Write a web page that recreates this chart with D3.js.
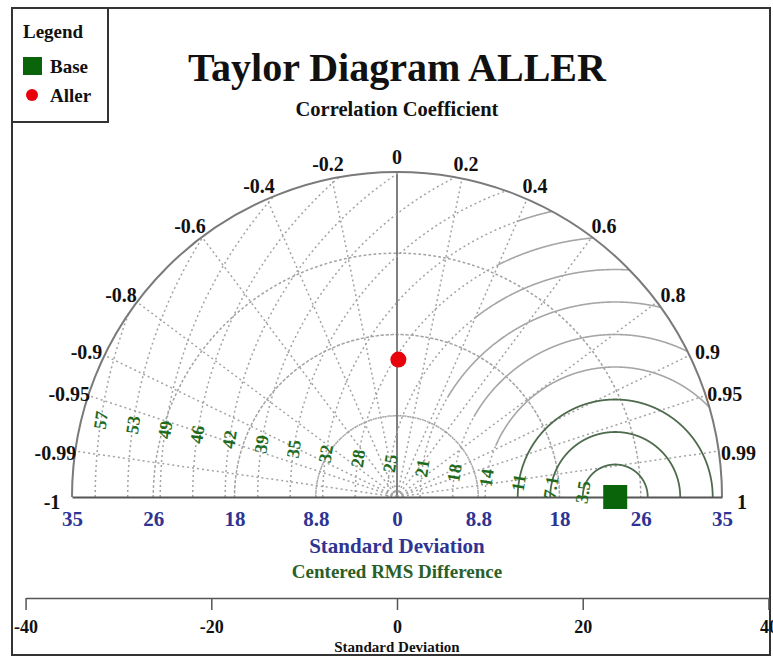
<!DOCTYPE html>
<html><head><meta charset="utf-8">
<script src="https://cdn.jsdelivr.net/npm/d3@7"></script>
<style>
body{margin:0;background:#fff}
svg{display:block}
text{font-family:"Liberation Serif","Times New Roman",serif;font-weight:bold}
</style>
</head><body>
<svg id="c" width="773" height="659"></svg>
<script>
// ---- data ----
const corrTicks  = [-1,-0.99,-0.95,-0.9,-0.8,-0.6,-0.4,-0.2,0,0.2,0.4,0.6,0.8,0.9,0.95,0.99,1];
const corrLabels = ["-1","-0.99","-0.95","-0.9","-0.8","-0.6","-0.4","-0.2","0","0.2","0.4","0.6","0.8","0.9","0.95","0.99","1"];
const stdTicks   = [-35,-26.25,-17.5,-8.75,0,8.75,17.5,26.25,35];
const stdLabels  = ["35","26","18","8.8","0","8.8","18","26","35"];
const stdArcs    = [0.6,8.75,17.5,26.25];
const rmsArcs    = [3.5,7,10.5,14,17.5,21,24.5,28,31.5,35,38.5,42,45.5,49,52.5,56];
const rmsLabels  = ["3.5","7.1","11","14","18","21","25","28","32","35","39","42","46","49","53","57"];
const axisTicks  = [-40,-20,0,20,40];
const modelNames = ["Base","Aller"];
const modelStd   = [23.5,14.8];
const modelCorr  = [1,0.01];
const refStd = 23.5;

// ---- layout ----
const svg = d3.select("#c");
const cx = 397, cy = 497, R = 325, maxStd = 35;
const rs = d3.scaleLinear().domain([0,maxStd]).range([0,R]);
const xs = d3.scaleLinear().domain([-maxStd,maxStd]).range([cx-R,cx+R]);
const xb = d3.scaleLinear().domain([-40,40]).range([cx-rs(40),cx+rs(40)]);
const pos = (s,c)=>{const t=Math.acos(c);return [cx+rs(s)*Math.cos(t), cy-rs(s)*Math.sin(t)];};
const grey="#a3a3a3", dash="2 3";

// frame
svg.append("rect").attr("x",12).attr("y",8).attr("width",758).attr("height",647)
  .attr("fill","none").attr("stroke","#333").attr("stroke-width",2);

// std-dev dotted arcs
const arc = d3.arc();
stdArcs.forEach(s=>{
  svg.append("path").attr("transform",`translate(${cx},${cy})`)
    .attr("d",arc({innerRadius:rs(s),outerRadius:rs(s),startAngle:-Math.PI/2,endAngle:Math.PI/2}))
    .attr("fill","none").attr("stroke",grey).attr("stroke-width",1.5).attr("stroke-dasharray",dash);
});

// correlation rays
corrTicks.forEach(c=>{
  if(Math.abs(c)===1) return;
  const p=pos(maxStd,c);
  svg.append("line").attr("x1",cx).attr("y1",cy).attr("x2",p[0]).attr("y2",p[1])
    .attr("stroke",c===0?"#808080":grey).attr("stroke-width",c===0?2:1.5)
    .attr("stroke-dasharray",c===0?null:dash);
});

// RMS arcs
const refP = pos(refStd,1);
const line = d3.line();
rmsArcs.forEach((v,i)=>{
  const rr = rs(v);
  let segs=[], cur=null, curSolid=null;
  for(let k=0;k<=1440;k++){
    const ph = Math.PI*k/1440;
    const px = refP[0]-rr*Math.cos(ph), py = refP[1]-rr*Math.sin(ph);
    const dx=px-cx, dy=cy-py, d=Math.hypot(dx,dy);
    const inside = d<=R && dy>=0;
    if(!inside){cur=null;continue;}
    const s = d/R*maxStd, c = d>0?dx/d:1;
    const solid = s>=12 && c>=0.4;
    if(cur===null || solid!==curSolid){
      const prev = cur && cur[cur.length-1];
      cur=[]; curSolid=solid; segs.push({solid,pts:cur});
      if(prev) cur.push(prev);
    }
    cur.push([px,py]);
  }
  segs.forEach(sg=>{
    svg.append("path").attr("d",line(sg.pts)).attr("fill","none")
      .attr("stroke", sg.solid ? (v<=10.5?"#4e6b4e":"#a6a6a6") : grey)
      .attr("stroke-width", sg.solid ? (v<=10.5?1.8:1.6) : 1.5)
      .attr("stroke-dasharray", sg.solid?null:dash);
  });
});

// outer arc
svg.append("path").attr("transform",`translate(${cx},${cy})`)
  .attr("d",arc({innerRadius:R,outerRadius:R,startAngle:-Math.PI/2,endAngle:Math.PI/2}))
  .attr("fill","none").attr("stroke","#7a7a7a").attr("stroke-width",2);

// baseline + std labels via axis
const ax = svg.append("g").attr("transform",`translate(0,${cy})`)
  .call(d3.axisBottom(xs).tickValues(stdTicks).tickSize(0).tickPadding(14)
        .tickFormat((d,i)=>stdLabels[i]));
ax.select(".domain").attr("stroke","#555").attr("stroke-width",2);
ax.selectAll("text").attr("font-size",21).attr("fill","#2f3492")
  .attr("font-family","Liberation Serif, serif").attr("font-weight","bold");

// RMS labels
const ang = 8.5*Math.PI/180;
rmsArcs.forEach((v,i)=>{
  const x = refP[0]-rs(v)*Math.cos(ang), y = refP[1]-rs(v)*Math.sin(ang);
  svg.append("text").attr("transform",`translate(${x},${y}) rotate(${-90+8.5})`)
    .attr("text-anchor","middle").attr("dominant-baseline","central")
    .attr("font-size",18).attr("fill","#1e6b1e").text(rmsLabels[i]);
});

// correlation labels
corrTicks.forEach((c,i)=>{
  const t=Math.acos(c), lr=R+20;
  svg.append("text").attr("x",cx+lr*Math.cos(t)).attr("y",cy-lr*Math.sin(t)+5)
    .attr("text-anchor","middle").attr("dominant-baseline","central")
    .attr("font-size",20).attr("fill","#111").text(corrLabels[i]);
});

// models
modelNames.forEach((n,i)=>{
  const p=pos(modelStd[i],modelCorr[i]);
  if(i===0){
    svg.append("rect").attr("x",p[0]-12).attr("y",p[1]-12).attr("width",24).attr("height",24).attr("fill","#0a650a");
  } else {
    svg.append("circle").attr("cx",p[0]).attr("cy",p[1]).attr("r",8).attr("fill","#e8000b");
  }
});

// titles
svg.append("text").attr("x",cx).attr("y",81).attr("text-anchor","middle")
  .attr("font-size",40).attr("fill","#111").text("Taylor Diagram ALLER");
svg.append("text").attr("x",cx).attr("y",116).attr("text-anchor","middle")
  .attr("font-size",20.5).attr("fill","#111").text("Correlation Coefficient");
svg.append("text").attr("x",cx).attr("y",553).attr("text-anchor","middle")
  .attr("font-size",21).attr("fill","#2f3492").text("Standard Deviation");
svg.append("text").attr("x",cx).attr("y",578).attr("text-anchor","middle")
  .attr("font-size",19).attr("fill","#2a5f2a").text("Centered RMS Difference");

// bottom linear axis
const bx = svg.append("g").attr("transform","translate(0,598)")
  .call(d3.axisBottom(xb).tickValues(axisTicks).tickSize(12).tickSizeOuter(0).tickPadding(10)
        .tickFormat(d=>String(d)));
bx.select(".domain").attr("stroke","#555").attr("stroke-width",1.5);
bx.selectAll(".tick line").attr("stroke","#555").attr("stroke-width",1.5);
bx.selectAll("text").attr("font-size",18).attr("fill","#111")
  .attr("font-family","Liberation Serif, serif").attr("font-weight","900");
svg.append("text").attr("x",cx).attr("y",652).attr("text-anchor","middle")
  .attr("font-size",15).attr("fill","#111").text("Standard Deviation");

// legend
svg.append("rect").attr("x",12).attr("y",8).attr("width",96).attr("height",114)
  .attr("fill","#fff").attr("stroke","#333").attr("stroke-width",2);
svg.append("text").attr("x",23).attr("y",38).attr("font-size",19).attr("fill","#111").text("Legend");
svg.append("rect").attr("x",23).attr("y",57).attr("width",19).attr("height",18).attr("fill","#0a650a");
svg.append("text").attr("x",50).attr("y",73).attr("font-size",19).attr("fill","#111").text(modelNames[0]);
svg.append("circle").attr("cx",32).attr("cy",95).attr("r",6).attr("fill","#e8000b");
svg.append("text").attr("x",50).attr("y",102).attr("font-size",19).attr("fill","#111").text(modelNames[1]);
</script>
</body></html>
